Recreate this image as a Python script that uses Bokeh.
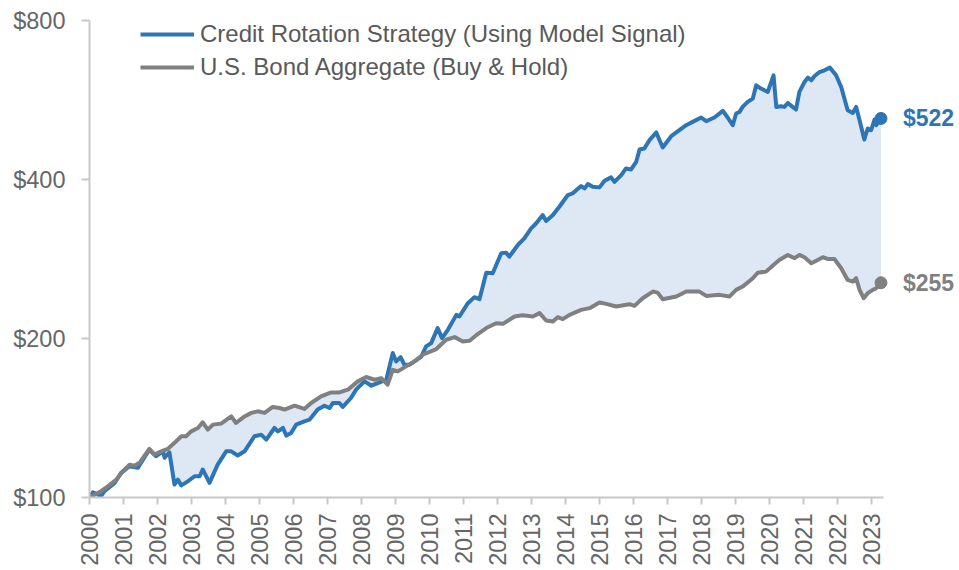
from bokeh.plotting import figure
from bokeh.models import Range1d, FixedTicker, Label, Legend, LegendItem
from bokeh.embed import file_html
from bokeh.resources import INLINE

# ---- data ----
strategy_year = [2000.00, 2000.10, 2000.34, 2000.44, 2000.74, 2000.93, 2001.18, 2001.42, 2001.76, 2001.96,
                 2002.16, 2002.21, 2002.35, 2002.50, 2002.60, 2002.70, 2002.89, 2003.09, 2003.24, 2003.33,
                 2003.53, 2003.77, 2004.02, 2004.17, 2004.36, 2004.56, 2004.85, 2005.05, 2005.20, 2005.44,
                 2005.54, 2005.69, 2005.79, 2005.93, 2006.08, 2006.32, 2006.47, 2006.71, 2006.91, 2007.06,
                 2007.16, 2007.35, 2007.45, 2007.69, 2007.84, 2008.09, 2008.29, 2008.48, 2008.73, 2008.92,
                 2009.02, 2009.15, 2009.26, 2009.41, 2009.56, 2009.76, 2009.90, 2010.05, 2010.24, 2010.37,
                 2010.54, 2010.79, 2010.88, 2011.13, 2011.32, 2011.47, 2011.67, 2011.86, 2012.11, 2012.25,
                 2012.35, 2012.60, 2012.79, 2012.99, 2013.14, 2013.33, 2013.43, 2013.63, 2013.82, 2014.07,
                 2014.21, 2014.46, 2014.56, 2014.66, 2014.80, 2015.00, 2015.15, 2015.34, 2015.44, 2015.64,
                 2015.78, 2015.93, 2016.08, 2016.18, 2016.32, 2016.47, 2016.67, 2016.86, 2017.11, 2017.35,
                 2017.55, 2017.74, 2017.99, 2018.14, 2018.38, 2018.63, 2018.77, 2018.92, 2019.02, 2019.12,
                 2019.21, 2019.36, 2019.51, 2019.61, 2019.75, 2019.95, 2020.12, 2020.20, 2020.34, 2020.44,
                 2020.54, 2020.68, 2020.78, 2020.88, 2021.03, 2021.13, 2021.23, 2021.32, 2021.47, 2021.62,
                 2021.78, 2021.96, 2022.11, 2022.30, 2022.45, 2022.55, 2022.65, 2022.79, 2022.89, 2022.99,
                 2023.09, 2023.14, 2023.28]
strategy_value = [100.0, 102.3, 100.6, 102.8, 106.6, 111.3, 114.6, 113.8, 123.2, 119.7,
                  122.3, 118.9, 121.8, 105.8, 108.1, 105.4, 107.3, 109.7, 109.7, 113.0,
                  106.6, 115.4, 122.3, 122.3, 120.1, 122.3, 130.6, 131.5, 128.7, 135.4,
                  133.4, 135.4, 131.0, 132.5, 137.4, 139.4, 140.4, 146.7, 149.2, 147.7,
                  151.0, 151.0, 148.4, 154.3, 160.0, 165.9, 162.8, 164.7, 167.1, 187.7,
                  181.0, 184.4, 178.4, 178.4, 181.0, 184.9, 193.2, 196.0, 209.3, 200.3,
                  207.7, 221.7, 220.1, 233.3, 239.5, 237.4, 266.5, 265.8, 290.0, 290.8,
                  285.8, 300.7, 309.6, 323.3, 330.5, 342.6, 333.8, 342.6, 355.2, 373.8,
                  376.5, 388.7, 384.8, 392.1, 387.5, 386.5, 397.7, 403.7, 396.0, 407.7,
                  419.8, 417.9, 432.0, 456.0, 458.0, 474.8, 491.0, 460.0, 483.1, 495.9,
                  506.8, 514.2, 524.1, 515.7, 524.1, 539.4, 524.1, 506.8, 533.3, 537.1,
                  548.9, 561.0, 569.3, 603.2, 594.6, 585.9, 630.0, 548.9, 550.6, 548.9,
                  558.5, 548.9, 542.7, 585.9, 611.8, 623.7, 616.4, 627.2, 639.0, 643.8,
                  651.4, 630.0, 598.8, 541.1, 534.7, 548.9, 518.0, 476.2, 499.6, 495.9,
                  519.6, 506.8, 522.0]

bond_year = [2000.00, 2000.34, 2000.54, 2000.79, 2000.98, 2001.18, 2001.32, 2001.47, 2001.76, 2001.91,
             2002.11, 2002.30, 2002.50, 2002.70, 2002.84, 2002.99, 2003.19, 2003.33, 2003.48, 2003.63,
             2003.87, 2004.17, 2004.31, 2004.56, 2004.76, 2004.95, 2005.15, 2005.39, 2005.59, 2005.74,
             2006.03, 2006.32, 2006.52, 2006.81, 2007.11, 2007.35, 2007.60, 2007.89, 2008.14, 2008.38,
             2008.58, 2008.77, 2008.92, 2009.07, 2009.31, 2009.56, 2009.80, 2010.20, 2010.49, 2010.74,
             2010.98, 2011.18, 2011.42, 2011.67, 2011.96, 2012.16, 2012.50, 2012.74, 2013.04, 2013.24,
             2013.43, 2013.63, 2013.77, 2013.92, 2014.12, 2014.46, 2014.71, 2015.00, 2015.20, 2015.49,
             2015.88, 2016.03, 2016.27, 2016.57, 2016.71, 2016.86, 2017.26, 2017.55, 2017.94, 2018.14,
             2018.53, 2018.82, 2019.02, 2019.21, 2019.51, 2019.66, 2019.90, 2020.15, 2020.29, 2020.54,
             2020.74, 2020.88, 2021.03, 2021.23, 2021.42, 2021.57, 2021.71, 2021.91, 2022.11, 2022.30,
             2022.45, 2022.55, 2022.65, 2022.77, 2022.89, 2023.04, 2023.14, 2023.28]
bond_value = [100.0, 102.8, 105.0, 108.1, 112.1, 115.4, 114.9, 116.3, 123.6, 120.6,
              122.3, 123.6, 126.9, 130.6, 130.6, 133.4, 135.4, 138.8, 134.4, 137.4,
              138.0, 142.4, 138.4, 142.4, 144.6, 145.6, 144.6, 148.4, 147.7, 146.7,
              149.2, 147.1, 151.0, 155.4, 158.1, 158.1, 160.0, 165.9, 169.1, 167.1,
              168.3, 163.5, 174.5, 173.3, 177.1, 181.0, 186.3, 191.0, 198.9, 201.2,
              197.4, 198.0, 203.9, 209.3, 213.8, 213.2, 220.1, 221.4, 220.1, 223.4,
              216.3, 215.4, 219.5, 217.6, 221.7, 226.6, 228.3, 233.9, 232.6, 229.9,
              232.3, 230.6, 238.4, 245.4, 244.3, 237.4, 240.1, 245.4, 245.4, 240.8,
              241.9, 240.1, 247.2, 250.8, 260.1, 266.5, 267.7, 276.8, 281.7, 287.9,
              283.8, 287.9, 285.0, 277.7, 281.7, 285.0, 282.9, 282.9, 271.7, 258.2,
              256.3, 260.1, 247.2, 238.4, 243.7, 247.2, 249.0, 255.0]

year_ticks = list(range(2000, 2024))
value_ticks = [100, 200, 400, 800]
value_tick_labels = ["$100", "$200", "$400", "$800"]
series_names = ["Credit Rotation Strategy (Using Model Signal)", "U.S. Bond Aggregate (Buy & Hold)"]

BLUE = "#2e75b6"
GRAY = "#808080"
FILL = "#dde8f4"
FONT = "Liberation Sans"

# frame spans 2000 .. ~2025.5 so the end labels fit; the x axis itself stops at 2023.35
p = figure(width=958, height=568, y_axis_type="log",
           x_range=Range1d(2000, 2025.56), y_range=Range1d(100, 800),
           output_backend="svg", toolbar_location=None,
           min_border_left=89, min_border_right=0, min_border_top=20, min_border_bottom=70)
p.outline_line_color = None
p.xgrid.visible = False
p.ygrid.visible = False
p.background_fill_color = "white"
p.border_fill_color = "white"

# shaded band between the two series
p.patch(x=strategy_year + bond_year[::-1], y=strategy_value + bond_value[::-1],
        fill_color=FILL, line_color=None)

r_blue = p.line(strategy_year, strategy_value, line_color=BLUE, line_width=4, line_join="round")
r_gray = p.line(bond_year, bond_value, line_color=GRAY, line_width=4, line_join="round")

p.scatter([strategy_year[-1]], [strategy_value[-1]], size=12, color=BLUE)
p.scatter([bond_year[-1]], [bond_value[-1]], size=12, color=GRAY)

p.add_layout(Label(x=strategy_year[-1], y=strategy_value[-1], text="$%d" % round(strategy_value[-1]),
                   x_offset=22, text_baseline="middle", text_color=BLUE, text_font=FONT,
                   text_font_style="bold", text_font_size="23px"))
p.add_layout(Label(x=bond_year[-1], y=bond_value[-1], text="$%d" % round(bond_value[-1]),
                   x_offset=22, text_baseline="middle", text_color=GRAY, text_font=FONT,
                   text_font_style="bold", text_font_size="23px"))

# axes
AX = "#c8c8c8"
p.xaxis.bounds = (2000, 2023.35)
p.xaxis.ticker = FixedTicker(ticks=year_ticks)
p.xaxis.major_label_orientation = 1.5708
p.xaxis.major_label_text_font = FONT
p.xaxis.major_label_text_font_size = "23.5px"
p.xaxis.major_label_text_color = "#666666"
p.xaxis.major_label_standoff = 9
p.xaxis.axis_line_color = AX
p.xaxis.axis_line_width = 2
p.xaxis.major_tick_line_color = AX
p.xaxis.major_tick_line_width = 2
p.xaxis.major_tick_out = 7
p.xaxis.major_tick_in = 0
p.xaxis.minor_tick_line_color = None

p.yaxis.ticker = FixedTicker(ticks=value_ticks)
p.yaxis.major_label_overrides = dict(zip(value_ticks, value_tick_labels))
p.yaxis.major_label_text_font = FONT
p.yaxis.major_label_text_font_size = "23.5px"
p.yaxis.major_label_text_color = "#666666"
p.yaxis.major_label_standoff = 16
p.yaxis.axis_line_color = AX
p.yaxis.axis_line_width = 2
p.yaxis.major_tick_line_color = AX
p.yaxis.major_tick_line_width = 2
p.yaxis.major_tick_out = 8
p.yaxis.major_tick_in = 0
p.yaxis.minor_tick_line_color = None

legend = Legend(items=[LegendItem(label=series_names[0], renderers=[r_blue]),
                       LegendItem(label=series_names[1], renderers=[r_gray])],
                location=(51, 416), orientation="vertical")
legend.border_line_color = None
legend.background_fill_alpha = 0
legend.padding = 0
legend.margin = 0
legend.spacing = 5
legend.glyph_width = 54
legend.glyph_height = 28
legend.label_height = 28
legend.label_standoff = 6
legend.label_text_font = FONT
legend.label_text_font_size = "24px"
legend.label_text_color = "#595959"
p.add_layout(legend)

open("out.html", "w").write(file_html(p, INLINE))
